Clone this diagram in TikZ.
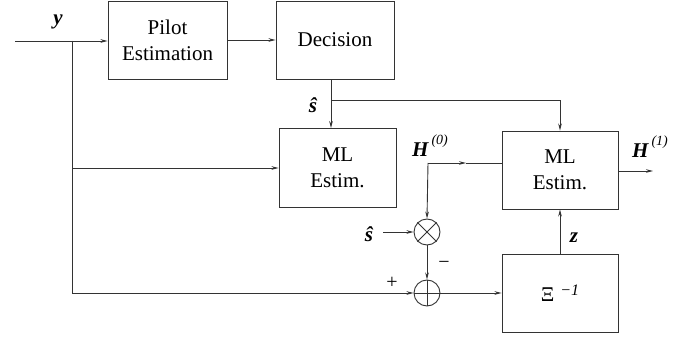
\documentclass[tikz,border=0pt]{standalone}
\usepackage{fontspec}
\setmainfont{Liberation Serif}
\usetikzlibrary{arrows.meta}
\begin{document}
\begin{tikzpicture}[x=1pt,y=-1pt,
  ln/.style={line width=0.9pt,draw=black!80},
  arr/.style={ln,-{Stealth[length=7pt,width=3.6pt]}},
  blk/.style={ln,rectangle,inner sep=0pt,align=center,font=\fontsize{21}{26}\selectfont},
  junc/.style={ln,circle,inner sep=0pt,minimum size=26pt},
  lbl/.style={inner sep=0pt,font=\fontsize{21}{24}\selectfont\bfseries\itshape},
  sgn/.style={inner sep=0pt,font=\fontsize{20}{22}\selectfont}]
\useasboundingbox (0,0) rectangle (699,339);
% blocks
\node[blk,minimum width=119pt,minimum height=78pt] (pilot) at (167.5,40) {Pilot\\Estimation};
\node[blk,minimum width=118pt,minimum height=78pt] (dec) at (335,40) {Decision};
\node[blk,minimum width=117pt,minimum height=79pt] (ml1) at (337.5,168) {ML\\Estim.};
\node[blk,minimum width=116pt,minimum height=78pt] (ml2) at (560,170) {ML\\Estim.};
\node[blk,minimum width=116pt,minimum height=78pt] (xi) at (560,293) {Ξ\,\raisebox{0.6ex}{\fontsize{16}{18}\selectfont\itshape\,−1}};
\node[junc] (mul) at (427,232) {};
\node[junc] (add) at (427,293) {};
\draw[ln] (mul.north west) -- (mul.south east) (mul.north east) -- (mul.south west);
\draw[ln] (add.north) -- (add.south) (add.west) -- (add.east);
% coordinates
\coordinate (in) at (15,41);
\coordinate (j1) at (72,41);
\coordinate (sb) at (331,100);
\coordinate (h0) at (428,163);
\coordinate (h0m) at (466,163);
\coordinate (s2) at (383,232);
\coordinate (out) at (653,171);
% connectors
\draw[arr] (in) -- (pilot.west|-in);
\draw[arr] (pilot.east) -- (dec.west);
\draw[arr] (j1) |- (ml1.west);
\draw[arr] (j1) |- (add.west);
\draw[arr] (dec.south-|sb) -- (ml1.north-|sb);
\draw[arr] (sb) -| (ml2.north);
\draw[arr] (h0) -- (h0m);
\draw[ln] (h0m) -- (ml2.west|-h0);
\draw[arr] (h0) -- (mul.north);
\draw[arr] (s2) -- (mul.west);
\draw[arr] (mul.south) -- (add.north);
\draw[arr] (add.east) -- (xi.west);
\draw[arr] (xi.north) -- (ml2.south);
\draw[arr] (ml2.east|-out) -- (out);
% labels
\node[lbl,anchor=base] (ls1) at (313,113) {ŝ};
\node[lbl,anchor=base] (ls2) at (369,242) {ŝ};
\node[lbl] (ly) at (58,22) {y};
\node[lbl] (lz) at (574,238) {z};
\node[lbl,anchor=base west] (lh0) at (412,157) {H\raisebox{1.25ex}{\fontsize{14}{16}\selectfont\mdseries\itshape\kern3pt(0)}};
\node[lbl,anchor=base west] (lh1) at (632,158) {H\raisebox{1.25ex}{\fontsize{14}{16}\selectfont\mdseries\itshape\kern3pt(1)}};
\node[sgn] (minus) at (444,265) {−};
\node[sgn] (plus) at (392,283) {+};
\end{tikzpicture}
\end{document}
